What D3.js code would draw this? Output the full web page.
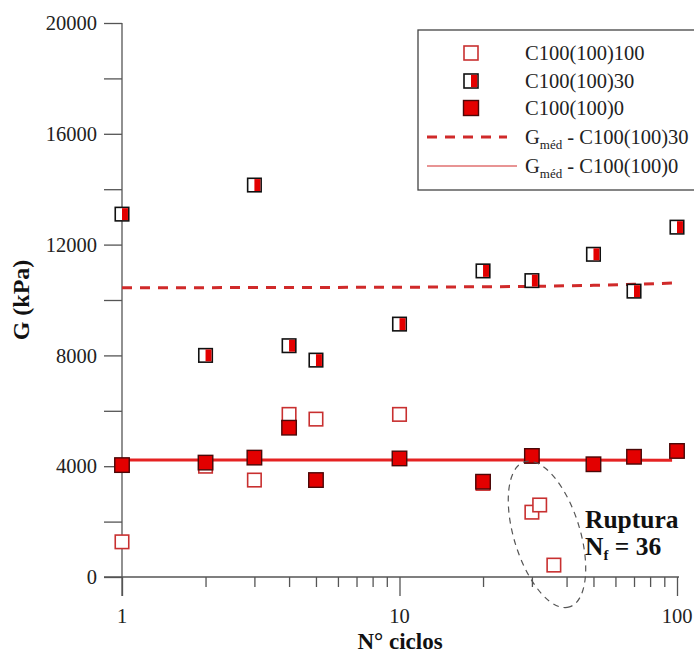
<!DOCTYPE html>
<html><head><meta charset="utf-8">
<script src="https://cdn.jsdelivr.net/npm/d3@7"></script>
<style>body{margin:0;background:#fff}svg{display:block}</style>
</head><body>
<svg id="c" width="694" height="656"></svg>
<script>
// ---- data ----
const openN   = [1, 2, 3, 4, 5, 10, 20, 30, 32, 36];
const openG   = [1270, 4000, 3500, 5870, 5700, 5870, 3380, 2340, 2600, 430];
const halfN   = [1, 2, 3, 4, 5, 10, 20, 30, 50, 70, 100];
const halfG   = [13100, 8000, 14150, 8350, 7830, 9130, 11050, 10700, 11650, 10320, 12630];
const fullN   = [1, 2, 3, 4, 5, 10, 20, 30, 50, 70, 100];
const fullG   = [4040, 4130, 4310, 5390, 3500, 4280, 3440, 4370, 4070, 4340, 4550];
const meanHalfN = [1, 10, 30, 50, 70, 96];
const meanHalfG = [10440, 10460, 10490, 10530, 10570, 10610];
const meanFullN = [1, 10, 30, 96];
const meanFullG = [4220, 4220, 4220, 4215];
const yTicks = [0, 4000, 8000, 12000, 16000, 20000];
const yMinor = [2000, 6000, 10000, 14000, 18000];
const xMajor = [1, 10, 100];
const xMinor = [2,3,4,5,6,7,8,9,20,30,40,50,60,70,80,90];
const legendLabels = ["C100(100)100", "C100(100)30", "C100(100)0", " - C100(100)30", " - C100(100)0"];
const rupturaN = 34, rupturaG = 1540;

const svg = d3.select("#c");
const x = d3.scaleLog().domain([1, 100]).range([122, 677]);
const y = d3.scaleLinear().domain([0, 20000]).range([577, 23]);
const serif = "'Liberation Serif','Times New Roman',serif";
const axisCol = "#555";
const red = "#e30000";

// axes
const gy = svg.append("g").attr("transform", `translate(${x(1)},0)`);
gy.call(d3.axisLeft(y).tickValues(yTicks.concat(yMinor)).tickSize(18).tickFormat(""));
gy.select(".domain").remove();
gy.selectAll("line").attr("stroke", axisCol).attr("stroke-width", 1.3);
gy.selectAll(".ytl").data(yTicks).enter().append("text")
  .attr("x", -25).attr("y", d => y(d)).attr("dy", "0.35em")
  .attr("text-anchor", "end").attr("font-family", serif).attr("font-size", 20.5).attr("fill", "#222")
  .text(d => d);
svg.append("line").attr("x1", x(1)).attr("x2", x(1)).attr("y1", y(20000)).attr("y2", y(0) + 19)
  .attr("stroke", axisCol).attr("stroke-width", 1.3);

const gx = svg.append("g").attr("transform", `translate(0,${y(0)})`);
gx.call(d3.axisBottom(x).tickValues(xMajor).tickSize(19).tickFormat(""));
gx.call(g => g.select(".domain").remove());
gx.append("g").call(d3.axisBottom(x).tickValues(xMinor).tickSize(10).tickFormat(""))
  .call(g => g.select(".domain").remove());
gx.selectAll("line").attr("stroke", axisCol).attr("stroke-width", 1.3);
gx.selectAll(".xtl").data(xMajor).enter().append("text")
  .attr("x", d => x(d)).attr("y", 39).attr("dy", "0.35em")
  .attr("text-anchor", "middle").attr("font-family", serif).attr("font-size", 20.5).attr("fill", "#222")
  .text(d => d);
svg.append("line").attr("x1", x(1) - 18).attr("x2", x(100) + 2).attr("y1", y(0)).attr("y2", y(0))
  .attr("stroke", axisCol).attr("stroke-width", 1.3);

// axis titles
svg.append("text").attr("x", 400).attr("y", 641).attr("dy", "0.35em").attr("text-anchor", "middle")
  .attr("font-family", serif).attr("font-weight", "bold").attr("font-size", 23).attr("fill", "#111")
  .text("N° ciclos");
svg.append("text").attr("transform", "translate(21,300) rotate(-90)").attr("dy", "0.35em")
  .attr("text-anchor", "middle").attr("font-family", serif).attr("font-weight", "bold")
  .attr("font-size", 24).attr("fill", "#111").text("G (kPa)");

// mean lines
const line = d3.line().x(d => x(d[0])).y(d => y(d[1]));
svg.append("path").datum(d3.zip(meanHalfN, meanHalfG)).attr("d", line)
  .attr("fill", "none").attr("stroke", "#d02a2a").attr("stroke-width", 3).attr("stroke-dasharray", "10,8");
svg.append("path").datum(d3.zip(meanFullN, meanFullG)).attr("d", line)
  .attr("fill", "none").attr("stroke", "#e52222").attr("stroke-width", 3);

// markers
function openMark(g, s) {
  g.append("rect").attr("x", -s/2).attr("y", -s/2).attr("width", s).attr("height", s)
    .attr("fill", "#fff").attr("stroke", "#c83030").attr("stroke-width", 1.6);
}
function fullMark(g, s) {
  g.append("rect").attr("x", -s/2).attr("y", -s/2).attr("width", s).attr("height", s)
    .attr("fill", red).attr("stroke", "#4a0808").attr("stroke-width", 1.4);
}
function halfMark(g, s) {
  g.append("rect").attr("x", -s/2).attr("y", -s/2).attr("width", s).attr("height", s)
    .attr("fill", "#fff").attr("stroke", "#111").attr("stroke-width", 1.6);
  g.append("rect").attr("x", 0).attr("y", -s/2 + 0.8).attr("width", s/2 - 0.8).attr("height", s - 1.6)
    .attr("fill", red);
}
const markLayer = svg.append("g");
d3.zip(openN, openG).forEach(d => openMark(markLayer.append("g").attr("transform", `translate(${x(d[0])},${y(d[1])})`), 13.5));
d3.zip(fullN, fullG).forEach(d => fullMark(markLayer.append("g").attr("transform", `translate(${x(d[0])},${y(d[1])})`), 14.5));
d3.zip(halfN, halfG).forEach(d => halfMark(markLayer.append("g").attr("transform", `translate(${x(d[0])},${y(d[1])})`), 13.5));

// ruptura ellipse
svg.append("ellipse").attr("cx", 0).attr("cy", 0).attr("rx", 76).attr("ry", 33)
  .attr("transform", `translate(${x(rupturaN)},${y(rupturaG)}) rotate(72.8)`)
  .attr("fill", "none").attr("stroke", "#555").attr("stroke-width", 1.2).attr("stroke-dasharray", "6,5");
const rt = svg.append("text").attr("font-family", serif).attr("font-weight", "bold").attr("font-size", 25.5).attr("fill", "#111");
rt.append("tspan").attr("x", 585).attr("y", 528).text("Ruptura");
const nt = svg.append("text").attr("font-family", serif).attr("font-weight", "bold").attr("font-size", 25.5).attr("fill", "#111")
  .attr("x", 585).attr("y", 555);
nt.append("tspan").text("N");
nt.append("tspan").attr("font-size", 15).attr("dy", 5).text("f");
nt.append("tspan").attr("dy", -5).text(" = 36");

// legend
const lg = svg.append("g");
lg.append("rect").attr("x", 418).attr("y", 30).attr("width", 290).attr("height", 160)
  .attr("fill", "#fff").attr("stroke", "#444").attr("stroke-width", 1.3);
const rowsY = [53, 81, 108, 137, 166];
openMark(lg.append("g").attr("transform", `translate(471,${rowsY[0]})`), 14);
halfMark(lg.append("g").attr("transform", `translate(471,${rowsY[1]})`), 14);
fullMark(lg.append("g").attr("transform", `translate(471,${rowsY[2]})`), 15);
lg.append("line").attr("x1", 427).attr("x2", 507).attr("y1", rowsY[3]).attr("y2", rowsY[3])
  .attr("stroke", "#d02a2a").attr("stroke-width", 3).attr("stroke-dasharray", "10,8");
lg.append("line").attr("x1", 427).attr("x2", 517).attr("y1", rowsY[4]).attr("y2", rowsY[4])
  .attr("stroke", "#e07070").attr("stroke-width", 1.3);
legendLabels.forEach((t, i) => {
  const tx = lg.append("text").attr("x", 525).attr("y", rowsY[i]).attr("dy", "0.35em")
    .attr("font-family", serif).attr("font-size", 20.5).attr("fill", "#222");
  if (i >= 3) {
    tx.append("tspan").text("G");
    tx.append("tspan").attr("font-size", 13).attr("dy", 5).text("méd");
    tx.append("tspan").attr("dy", -5).text(t);
  } else tx.text(t);
});
</script>
</body></html>
